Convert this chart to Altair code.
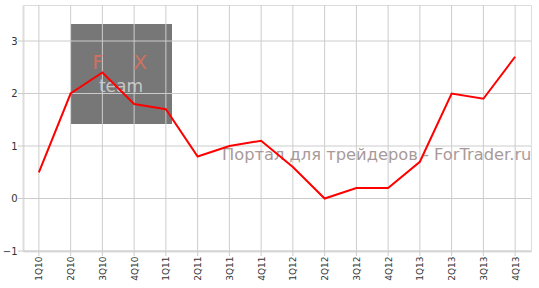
import altair as alt
import pandas as pd

quarters = ["1Q10", "2Q10", "3Q10", "4Q10", "1Q11", "2Q11", "3Q11", "4Q11",
            "1Q12", "2Q12", "3Q12", "4Q12", "1Q13", "2Q13", "3Q13", "4Q13"]
values = [0.5, 2.0, 2.4, 1.8, 1.7, 0.8, 1.0, 1.1, 0.6, 0.0, 0.2, 0.2, 0.7, 2.0, 1.9, 2.7]
y_ticks = [-1, 0, 1, 2, 3]

df = pd.DataFrame({"q": quarters, "v": values})
df_y = pd.DataFrame({"t": y_ticks})
df_x = pd.DataFrame({"q": quarters})

W, H = 508, 246
xscale = alt.Scale(type="point", domain=quarters, padding=0.5)
yscale = alt.Scale(domain=[-1, 3.686], nice=False, zero=False)

xaxis = alt.Axis(title=None, labelAngle=-90, labelFontSize=9, labelFont="DejaVu Sans",
                 labelColor="#333333", domainColor="#dddddd", domainWidth=2,
                 ticks=False, grid=False, labelPadding=5)
yaxis = alt.Axis(title=None, values=y_ticks, labelFontSize=10, labelFont="DejaVu Sans",
                 labelColor="#333333", domainColor="#dddddd", domainWidth=2,
                 ticks=False, grid=False, labelPadding=6)

wm_rect = alt.Chart(pd.DataFrame({"a": [0]})).mark_rect(color="#777777").encode(
    x=alt.value(48), x2=alt.value(149), y=alt.value(19), y2=alt.value(119))

wm_f = alt.Chart(pd.DataFrame({"a": [0]})).mark_text(
    text="F", font="DejaVu Sans", fontSize=20, color="#d07060",
    align="center", baseline="middle").encode(x=alt.value(75), y=alt.value(58))
wm_x = alt.Chart(pd.DataFrame({"a": [0]})).mark_text(
    text="X", font="DejaVu Sans", fontSize=20, color="#d07060",
    align="center", baseline="middle").encode(x=alt.value(117), y=alt.value(58))
wm_team = alt.Chart(pd.DataFrame({"a": [0]})).mark_text(
    text="team", font="DejaVu Sans", fontSize=17, color="#c8c8c8",
    align="center", baseline="middle").encode(x=alt.value(98), y=alt.value(82))

grid_x = alt.Chart(df_x).mark_rule(color="#cccccc", strokeWidth=1).encode(
    x=alt.X("q:N", scale=xscale, axis=xaxis), y=alt.value(0), y2=alt.value(H + 5))
grid_y = alt.Chart(df_y).mark_rule(color="#cccccc", strokeWidth=1).encode(
    y=alt.Y("t:Q", scale=yscale, axis=yaxis), x=alt.value(-5), x2=alt.value(W))

line = alt.Chart(df).mark_line(color="#ff0000", strokeWidth=2).encode(
    x=alt.X("q:N", scale=xscale, sort=quarters, axis=xaxis),
    y=alt.Y("v:Q", scale=yscale, axis=yaxis),
)

wm_text = alt.Chart(pd.DataFrame({"a": [0]})).mark_text(
    text="Портал для трейдеров - ForTrader.ru", font="DejaVu Sans", fontSize=16.3,
    color="#a09090", opacity=0.9, align="left", baseline="middle").encode(
    x=alt.value(199), y=alt.value(150))

chart = alt.layer(wm_rect, grid_x, grid_y, wm_f, wm_x, wm_team, wm_text, line).properties(
    width=W, height=H,
    autosize=alt.AutoSizeParams(type="none"),
    padding={"left": 23, "top": 5, "right": 8, "bottom": 37},
).configure_view(stroke=None).configure(background="white")

chart.save("out.html", embed_options={"renderer": "svg", "actions": False})
